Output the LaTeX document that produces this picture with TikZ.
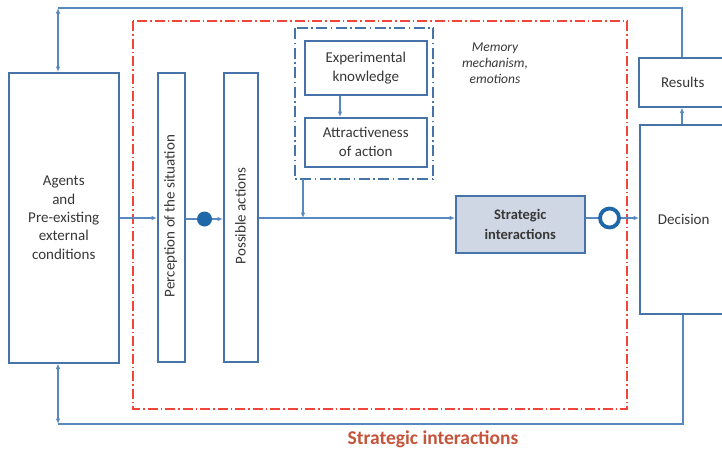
\documentclass[tikz,border=0pt]{standalone}
\usepackage{fontspec}
\setmainfont{Carlito}
\usetikzlibrary{arrows.meta}
\definecolor{lineblue}{RGB}{88,136,192}
\definecolor{boxblue}{RGB}{70,116,168}
\definecolor{dotblue}{RGB}{30,104,168}
\definecolor{stratfill}{RGB}{208,215,228}
\definecolor{dashred}{RGB}{240,70,58}
\definecolor{titlered}{RGB}{196,84,58}
\definecolor{txt}{RGB}{55,55,55}
\tikzset{
  box/.style={draw=boxblue, line width=1.5pt, fill=white, anchor=north west, inner sep=0pt, text=txt, align=center, font=\fontsize{15}{18.3}\selectfont},
  conn/.style={draw=lineblue, line width=1.1pt},
  arr/.style={conn, -{Latex[length=5.5pt,width=4.5pt]}},
  dbl/.style={conn, {Latex[length=5.5pt,width=4.5pt]}-{Latex[length=5.5pt,width=4.5pt]}},
  redframe/.style={draw=dashred, line width=1.4pt, dash pattern=on 10pt off 3pt on 1.5pt off 3pt},
  blueframe/.style={draw=boxblue, line width=1.4pt, dash pattern=on 11pt off 3.5pt on 1.5pt off 3.5pt},
  vtext/.style={rotate=90, text=txt, font=\fontsize{15}{18}\selectfont},
}
\begin{document}
\begin{tikzpicture}[x=1pt,y=-1pt]
\useasboundingbox (0,0) rectangle (722,451);
\clip (0,0) rectangle (722,451);
% frames
\draw[redframe] (133,21) rectangle (627,409);
\draw[blueframe] (295,28) rectangle (433,179);
\node[inner sep=0pt, minimum width=138pt, minimum height=151pt, anchor=north west] (memo) at (295,28) {};
% boxes
\node[box, minimum width=110pt, minimum height=290pt] (agents) at (8,72) {Agents\\and\\Pre-existing\\external\\conditions};
\node[box, minimum width=27pt, minimum height=289pt] (perc) at (157,72) {};
\node[vtext] (perctext) at (170.7,216) {Perception of the situation};
\node[box, minimum width=34pt, minimum height=289pt] (poss) at (223,72) {};
\node[vtext] (posstext) at (240.5,216) {Possible actions};
\node[box, minimum width=122pt, minimum height=54pt, font=\fontsize{15}{19}\selectfont] (exp) at (304,40) {Experimental\\knowledge};
\node[box, minimum width=122pt, minimum height=49pt, font=\fontsize{15}{19}\selectfont] (attr) at (304,117) {Attractiveness\\of action};
\node[box, fill=stratfill, minimum width=129pt, minimum height=57pt, font=\bfseries\fontsize{14.5}{20}\selectfont] (strat) at (455,195) {Strategic\\interactions};
\node[box, minimum width=88pt, minimum height=189pt, text width=88pt] (dec) at (639,124) {Decision};
\node[box, minimum width=88pt, minimum height=49pt, text width=88pt] (res) at (638,57) {Results};
\node[text=txt, align=center, font=\itshape\fontsize{13.5}{16}\selectfont] (memtext) at (495,63) {Memory\\mechanism,\\emotions};
\node[text=titlered, font=\bfseries\fontsize{19.5}{22}\selectfont] (title) at (433,439) {Strategic interactions};
% circles
\node[circle, fill=dotblue, inner sep=0pt, minimum size=15pt] (dot) at (204.5,219) {};
\node[circle, draw=dotblue, fill=white, line width=3.8pt, inner sep=0pt, minimum size=19pt] (ring) at (609.5,218) {};
% coordinates
\coordinate (j) at (303,218);
\coordinate (ea) at (340,0);
\coordinate (rx) at (682,0);
\coordinate (dx) at (683,0);
\coordinate (tl) at (58,8);
\coordinate (bl) at (58,424);
% connectors
\draw[arr] (agents.east |- 0,218) -- (perc.west |- 0,218);
\draw[conn] (perc.east |- dot) -- (dot);
\draw[arr] (dot) -- (poss.west |- dot);
\draw[arr] (poss.east |- j) -- (strat.west |- j);
\draw[arr] (memo.south -| j) -- (j);
\draw[arr] (exp.south -| ea) -- (attr.north -| ea);
\draw[conn] (strat.east |- ring) -- (ring);
\draw[arr] (ring) -- (dec.west |- ring);
\draw[arr] (dec.north -| rx) -- (res.south -| rx);
\draw[conn] (res.north -| rx) |- (tl);
\draw[dbl] (tl) -- (agents.north -| tl);
\draw[conn] (dec.south -| dx) |- (bl);
\draw[dbl] (bl) -- (agents.south -| bl);
\end{tikzpicture}
\end{document}
